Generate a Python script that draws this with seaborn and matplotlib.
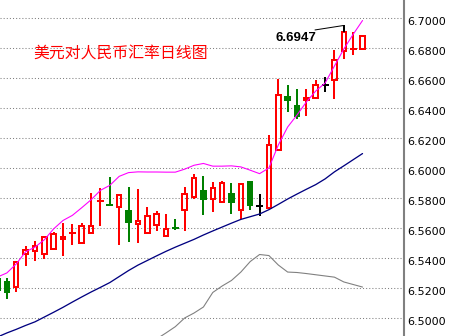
import numpy as np
import pandas as pd
import matplotlib
matplotlib.use("Agg")
import matplotlib.pyplot as plt
from matplotlib.transforms import ScaledTranslation
import seaborn as sns

# ---- data ----
opens = [6.5257, 6.5235, 6.5205, 6.5425, 6.5445, 6.5421, 6.5459, 6.5521, 6.5560, 6.5499,
         6.5561, 6.5773, 6.5752, 6.5735, 6.5708, 6.5621, 6.5561, 6.5615, 6.5541, 6.5599,
         6.5715, 6.5805, 6.5843, 6.5792, 6.5772, 6.5823, 6.5715, 6.5903, 6.5741, 6.5728,
         6.6115, 6.6470, 6.6410, 6.6448, 6.6461, 6.6552, 6.6581, 6.6775, 6.6786, 6.6788]
highs = [6.5270, 6.5265, 6.5368, 6.5477, 6.5508, 6.5535, 6.5570, 6.5632, 6.5621, 6.5628,
         6.5828, 6.5861, 6.5939, 6.5819, 6.5868, 6.5855, 6.5737, 6.5708, 6.5690, 6.5657,
         6.5872, 6.5957, 6.5945, 6.5905, 6.5910, 6.5897, 6.5897, 6.5903, 6.5823, 6.6217,
         6.6592, 6.6550, 6.6523, 6.6523, 6.6583, 6.6601, 6.6783, 6.6947, 6.6901, 6.6875]
lows = [6.5160, 6.5121, 6.5172, 6.5345, 6.5379, 6.5392, 6.5459, 6.5410, 6.5481, 6.5499,
        6.5561, 6.5612, 6.5750, 6.5483, 6.5505, 6.5499, 6.5561, 6.5575, 6.5541, 6.5583,
        6.5579, 6.5788, 6.5681, 6.5705, 6.5772, 6.5692, 6.5655, 6.5719, 6.5675, 6.5728,
        6.6115, 6.6372, 6.6323, 6.6345, 6.6461, 6.6501, 6.6455, 6.6721, 6.6748, 6.6788]
closes = [6.5183, 6.5170, 6.5368, 6.5448, 6.5475, 6.5535, 6.5555, 6.5535, 6.5563, 6.5608,
          6.5608, 6.5775, 6.5750, 6.5819, 6.5637, 6.5641, 6.5675, 6.5688, 6.5588, 6.5597,
          6.5821, 6.5930, 6.5792, 6.5861, 6.5897, 6.5772, 6.5890, 6.5752, 6.5741, 6.6150,
          6.6481, 6.6452, 6.6345, 6.6461, 6.6548, 6.6552, 6.6717, 6.6901, 6.6788, 6.6875]

band_upper = [6.5270, 6.5297, 6.5357, 6.5438, 6.5469, 6.5518, 6.5591, 6.5647, 6.5681, 6.5732,
              6.5785, 6.5848, 6.5881, 6.5941, 6.5966, 6.5971, 6.5970, 6.5970, 6.5969, 6.5969,
              6.5989, 6.6015, 6.6027, 6.6009, 6.6009, 6.6011, 6.6004, 6.5982, 6.5959, 6.5997,
              6.6150, 6.6270, 6.6350, 6.6437, 6.6510, 6.6563, 6.6677, 6.6790, 6.6888, 6.6980]
ma_long = [6.4870, 6.4897, 6.4921, 6.4947, 6.4971, 6.5003, 6.5035, 6.5068, 6.5103, 6.5137,
           6.5170, 6.5201, 6.5233, 6.5273, 6.5313, 6.5349, 6.5380, 6.5411, 6.5441, 6.5469,
           6.5495, 6.5521, 6.5550, 6.5577, 6.5603, 6.5629, 6.5654, 6.5672, 6.5690, 6.5719,
           6.5754, 6.5790, 6.5823, 6.5855, 6.5886, 6.5924, 6.5971, 6.6011, 6.6052, 6.6093]
band_lower = [np.nan] * 17 + [6.4857, 6.4897, 6.4939, 6.4997, 6.5030, 6.5070, 6.5167, 6.5210,
              6.5247, 6.5303, 6.5373, 6.5420, 6.5413, 6.5350, 6.5303, 6.5300, 6.5293, 6.5285,
              6.5277, 6.5269, 6.5237, 6.5220, 6.5203]

y_ticks = [6.50, 6.52, 6.54, 6.56, 6.58, 6.60, 6.62, 6.64, 6.66, 6.68, 6.70]
title_text = "美元对人民币汇率日线图"
peak_label = "6.6947"
peak_value = 6.6947

# ---- style ----
sns.set_style("white")
plt.rcParams["font.family"] = ["Noto Sans CJK SC", "DejaVu Sans"]

RED, GREEN, BLACK = "#FF0000", "#008000", "#000000"
W, H = 449, 336
fig = plt.figure(figsize=(W / 100, H / 100), dpi=100)
ax = fig.add_axes([0, 0, 404 / W, 1])

idx = np.arange(len(opens))
px = 0.72  # one pixel in points
body_w = 0.48
wick_lw = 1.4 * px * 1.4
edge_lw = 2 * px

for i, o, h, l, c in zip(idx, opens, highs, lows, closes):
    if c > o:
        col = RED
    elif c < o:
        col = GREEN
    else:
        col = BLACK
    lo_b, hi_b = min(o, c), max(o, c)
    if abs(c - o) < 0.0005:
        ax.vlines(i, l, h, color=col, lw=edge_lw, zorder=2)
        ax.hlines((o + c) / 2, i - 0.37, i + 0.37, color=col, lw=edge_lw, zorder=2)
        continue
    if h > hi_b:
        ax.vlines(i, hi_b, h, color=col, lw=edge_lw, zorder=2)
    if l < lo_b:
        ax.vlines(i, l, lo_b, color=col, lw=edge_lw, zorder=2)
    face = "none" if col == RED else col
    ax.bar(i, hi_b - lo_b, bottom=lo_b, width=body_w, facecolor=face,
           edgecolor=col, linewidth=edge_lw, zorder=2)

lines = pd.DataFrame({"idx": idx, "upper": band_upper, "long": ma_long, "lower": band_lower})
sns.lineplot(data=lines, x="idx", y="upper", color="#FF00FF", lw=1.0 * px * 1.1, ax=ax, zorder=3)
sns.lineplot(data=lines, x="idx", y="long", color="#000080", lw=1.3 * px, ax=ax, zorder=3)
sns.lineplot(data=lines.dropna(), x="idx", y="lower", color="#808080", lw=1.0 * px * 1.1, ax=ax, zorder=3)

# peak annotation
peak_i = int(np.argmax(highs))
ax.plot([33.92, peak_i], [6.6917, peak_value], color=BLACK, lw=1.0 * px, zorder=4)
ax.vlines(peak_i, max(opens[peak_i], closes[peak_i]), peak_value, color=BLACK, lw=edge_lw, zorder=4)
ax.text(29.75, 6.6863, peak_label, ha="left", va="center", fontsize=9.5,
        family="Liberation Sans", fontweight="bold", color="#000000", zorder=5)

# title
ax.text(33 / 404, 1 - 54 / 336, title_text, transform=ax.transAxes, ha="left", va="center",
        fontsize=11.4, color=RED, family=["Noto Sans CJK SC", "DejaVu Sans"])

# axes
ax.set_xlim(0.267, 43.43)
ax.set_ylim(6.48767, 6.71167)
ax.set_xticks([])
ax.set_yticks(y_ticks)
ax.set_yticklabels([f"{v:.4f}" for v in y_ticks], family="DejaVu Sans", fontsize=8, color="#000000")
ax.yaxis.tick_right()
ax.tick_params(axis="y", length=0, pad=2)
for lab in ax.get_yticklabels():
    lab.set_transform(lab.get_transform() + ScaledTranslation(0, -3 / 100, fig.dpi_scale_trans))
ax.grid(axis="y", color="#808080", linestyle=(0, (1, 2)), lw=0.75)
ax.grid(axis="x", visible=False)
for s in ["top", "left", "bottom"]:
    ax.spines[s].set_visible(False)
ax.spines["right"].set_color("#808080")
ax.spines["right"].set_linewidth(1.5)
ax.set_xlabel("")
ax.set_ylabel("")

fig.savefig("out.png", dpi=100)
